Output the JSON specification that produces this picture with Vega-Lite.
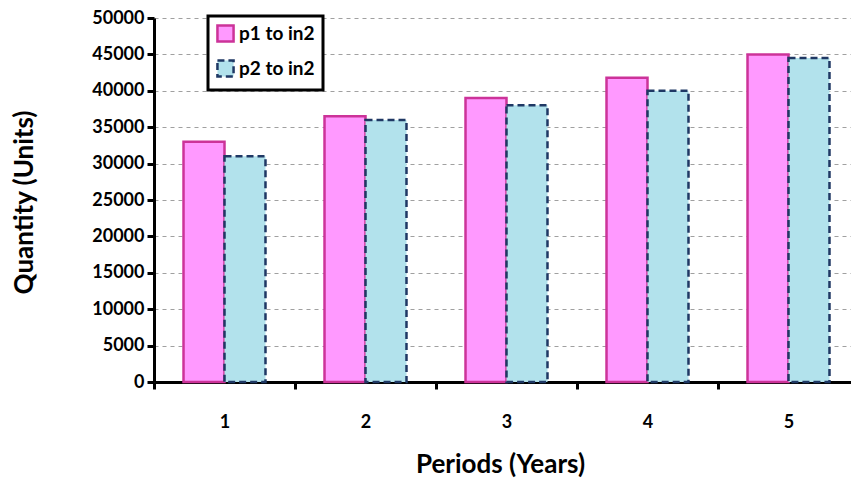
{
  "$schema": "https://vega.github.io/schema/vega-lite/v6.json",
  "autosize": "none",
  "width": 705,
  "height": 364,
  "padding": {"left": 154, "top": 18, "right": 0, "bottom": 101},
  "background": "white",
  "config": {"view": {"stroke": null}, "font": "Lato"},
  "data": {"values": [
    {"period": "1", "series": "p1 to in2", "qty": 33000},
    {"period": "1", "series": "p2 to in2", "qty": 31000},
    {"period": "2", "series": "p1 to in2", "qty": 36500},
    {"period": "2", "series": "p2 to in2", "qty": 36000},
    {"period": "3", "series": "p1 to in2", "qty": 39000},
    {"period": "3", "series": "p2 to in2", "qty": 38000},
    {"period": "4", "series": "p1 to in2", "qty": 41800},
    {"period": "4", "series": "p2 to in2", "qty": 40000},
    {"period": "5", "series": "p1 to in2", "qty": 45000},
    {"period": "5", "series": "p2 to in2", "qty": 44500}
  ]},
  "mark": {"type": "bar", "strokeWidth": 2.5, "strokeOpacity": 1},
  "encoding": {
    "x": {
      "field": "period", "type": "nominal",
      "scale": {"paddingInner": 0, "paddingOuter": 0},
      "axis": {
        "title": "Periods (Years)", "labelAngle": 0, "tickBand": "extent",
        "domainColor": "black", "domainWidth": 3, "tickColor": "black", "tickWidth": 3, "tickSize": 7,
        "labelFont": "Lato", "labelFontSize": 18, "labelFontWeight": "bold", "labelColor": "black", "labelPadding": 24,
        "titleFont": "Lato", "titleFontSize": 26, "titleFontWeight": "bold", "titleColor": "black", "titleX": 346, "titlePadding": 20,
        "grid": false
      }
    },
    "xOffset": {"field": "series", "type": "nominal", "scale": {"paddingOuter": 0.72, "paddingInner": 0}},
    "y": {
      "field": "qty", "type": "quantitative",
      "scale": {"domain": [0, 50000], "nice": false},
      "axis": {
        "title": "Quantity (Units)", "values": [0,5000,10000,15000,20000,25000,30000,35000,40000,45000,50000], "format": "d",
        "domainColor": "black", "domainWidth": 3, "tickColor": "black", "tickWidth": 3, "tickSize": 7,
        "labelFont": "Lato", "labelFontSize": 18, "labelFontWeight": "bold", "labelColor": "black", "labelPadding": 3,
        "titleFont": "Lato", "titleFontSize": 26, "titleFontWeight": "bold", "titleColor": "black", "titleX": -117, "titleY": 184,
        "grid": true, "gridColor": "#a0a0a0", "gridDash": [4, 4], "gridWidth": 1.2
      }
    },
    "fill": {
      "field": "series", "type": "nominal",
      "scale": {"domain": ["p1 to in2", "p2 to in2"], "range": ["#ff99ff", "#b2e2ec"]},
      "legend": {
        "title": null, "orient": "none", "legendX": 54, "legendY": -2,
        "strokeColor": "black", "fillColor": "white", "padding": 8,
        "labelFont": "Lato", "labelFontSize": 19, "labelFontWeight": "bold", "labelColor": "black", "labelOffset": 4,
        "symbolType": "square", "symbolSize": 260, "symbolStrokeWidth": 2.5, "rowPadding": 8,
        "encode": {"legend": {"update": {"strokeWidth": {"value": 3}}}}
      }
    },
    "stroke": {
      "field": "series", "type": "nominal",
      "scale": {"domain": ["p1 to in2", "p2 to in2"], "range": ["#cc3399", "#1f3864"]},
      "legend": null
    },
    "strokeDash": {
      "field": "series", "type": "nominal",
      "scale": {"domain": ["p1 to in2", "p2 to in2"], "range": [[1, 0], [7, 4]]},
      "legend": null
    }
  }
}
